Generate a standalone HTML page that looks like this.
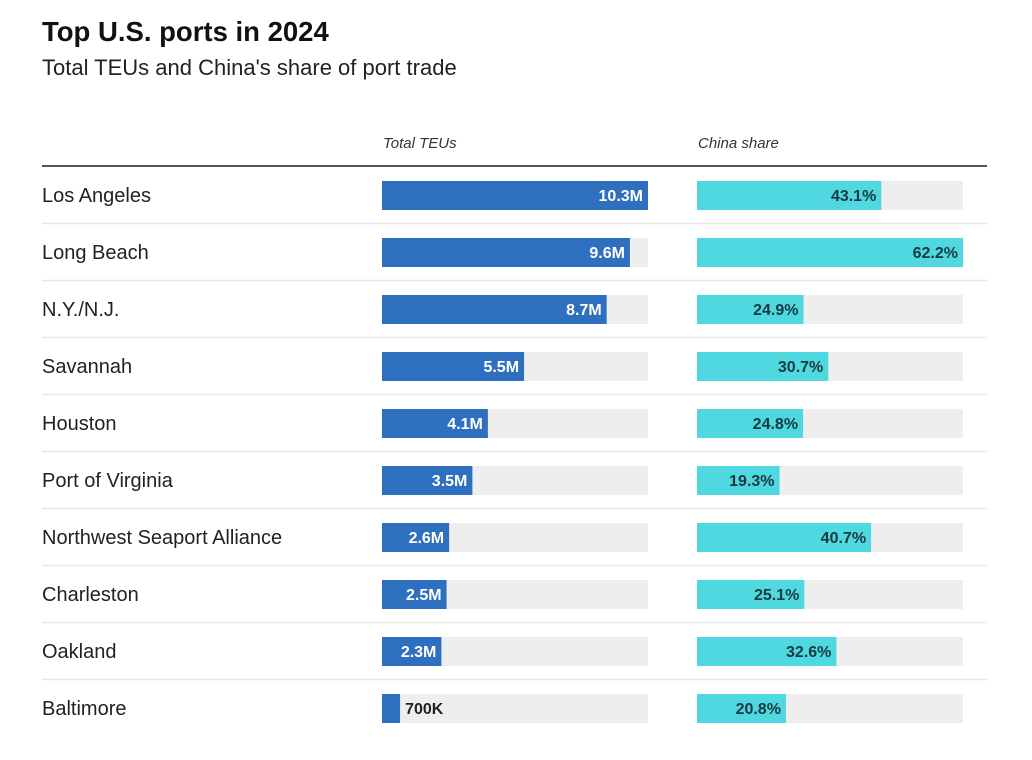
<!DOCTYPE html>
<html><head><meta charset="utf-8">
<style>
body{margin:0;background:#fff;font-family:"Liberation Sans",sans-serif;}
svg{display:block}
</style></head>
<body>
<svg id="chart" width="1032" height="760" xmlns="http://www.w3.org/2000/svg">
<text x="42" y="41" font-size="27.5" font-weight="bold" fill="#111">Top U.S. ports in 2024</text>
<text x="42" y="75" font-size="22" fill="#222">Total TEUs and China's share of port trade</text>
<text x="383" y="148" font-size="15" font-style="italic" fill="#333">Total TEUs</text>
<text x="698" y="148" font-size="15" font-style="italic" fill="#333">China share</text>
<line x1="42" y1="166" x2="987" y2="166" stroke="#555" stroke-width="2"/>
<g id="rows"></g>
</svg>
<script>
const ports = ["Los Angeles","Long Beach","N.Y./N.J.","Savannah","Houston","Port of Virginia","Northwest Seaport Alliance","Charleston","Oakland","Baltimore"];
const teus = [10.3,9.6,8.7,5.5,4.1,3.5,2.6,2.5,2.3,0.7];
const teuLabels = ["10.3M","9.6M","8.7M","5.5M","4.1M","3.5M","2.6M","2.5M","2.3M","700K"];
const chinaShare = [43.1,62.2,24.9,30.7,24.8,19.3,40.7,25.1,32.6,20.8];

const NS="http://www.w3.org/2000/svg";
const g=document.getElementById('rows');
const teuX0=382, shX0=697, trackW=266;
const teuMax=Math.max(...teus), shMax=Math.max(...chinaShare);
const xTeu=v=>v/teuMax*trackW, xSh=v=>v/shMax*trackW;
const yRow=i=>195+57*i;
function mk(tag,attrs,text){const e=document.createElementNS(NS,tag);for(const k in attrs)e.setAttribute(k,attrs[k]);if(text!==undefined)e.textContent=text;g.appendChild(e);return e;}
ports.forEach((p,i)=>{
  const cy=yRow(i), by=cy-14;
  let t=mk('text',{x:42,y:cy+7,'font-size':20,fill:'#222'},p);
  
  
  if(i<ports.length-1){
    let l=mk('line',{x1:42,x2:987,y1:cy+28.5,y2:cy+28.5,stroke:'#e8e8e8','stroke-width':1.5});
    
    
  }
  let tr=mk('rect',{x:teuX0,y:by,width:trackW,height:29,fill:'#eeeeee'});
  
  
  const w=xTeu(teus[i]);
  let b=mk('rect',{x:teuX0,y:by,width:w,height:29,fill:'#2f6fbf'});
  
  
  let inside=w>45;
  let lb=mk('text',inside?{x:teuX0+w-5,y:cy+6,'text-anchor':'end','font-size':16,'font-weight':'bold',fill:'#fff'}:{x:teuX0+w+5,y:cy+6,'font-size':16,'font-weight':'bold',fill:'#222'},teuLabels[i]);
  
  
  let st=mk('rect',{x:shX0,y:by,width:trackW,height:29,fill:'#eeeeee'});
  
  
  const sw=xSh(chinaShare[i]);
  let sb=mk('rect',{x:shX0,y:by,width:sw,height:29,fill:'#4fd8df'});
  
  
  let sl=mk('text',{x:shX0+sw-5,y:cy+6,'text-anchor':'end','font-size':16,'font-weight':'bold',fill:'#173a40'},chinaShare[i].toFixed(1)+'%');
  
  
});
</script>
</body></html>
